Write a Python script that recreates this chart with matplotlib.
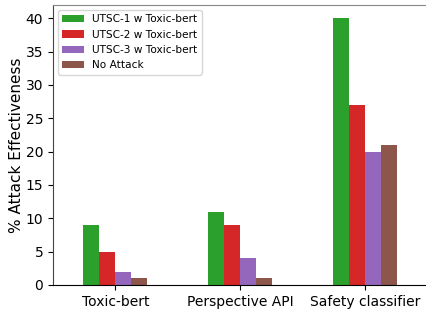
import matplotlib
matplotlib.use("Agg")
import matplotlib.pyplot as plt
import numpy as np

categories = ["Toxic-bert", "Perspective API", "Safety classifier"]
series_names = ["UTSC-1 w Toxic-bert", "UTSC-2 w Toxic-bert", "UTSC-3 w Toxic-bert", "No Attack"]
utsc1 = [9, 11, 40]
utsc2 = [5, 9, 27]
utsc3 = [2, 4, 20]
no_attack = [1, 1, 21]
colors = ["tab:green", "tab:red", "tab:purple", "tab:brown"]

fig = plt.figure(figsize=(4.27, 3.11), dpi=100)
ax = fig.add_axes([53/427, 1-285/311, 375/427, 280/311])

x = np.arange(len(categories))
w = 0.128
for i, (vals, name, c) in enumerate(zip([utsc1, utsc2, utsc3, no_attack], series_names, colors)):
    ax.bar(x + (i - 1.5) * w, vals, w, label=name, color=c)

ax.set_xticks(x)
ax.set_xticklabels(categories, fontsize=10)
ax.tick_params(axis='y', labelsize=10)
ax.set_yticks([0, 5, 10, 15, 20, 25, 30, 35, 40])
ax.set_ylim(0, 42)
ax.set_xlim(-0.5, 2.5)
ax.set_ylabel("% Attack Effectiveness", fontsize=11, labelpad=1)
ax.spines['top'].set_color('#888888')
ax.spines['left'].set_color('#444444')
ax.spines['right'].set_visible(False)
ax.legend(loc='upper left', fontsize=7.6)

fig.savefig("out.png", dpi=100)
